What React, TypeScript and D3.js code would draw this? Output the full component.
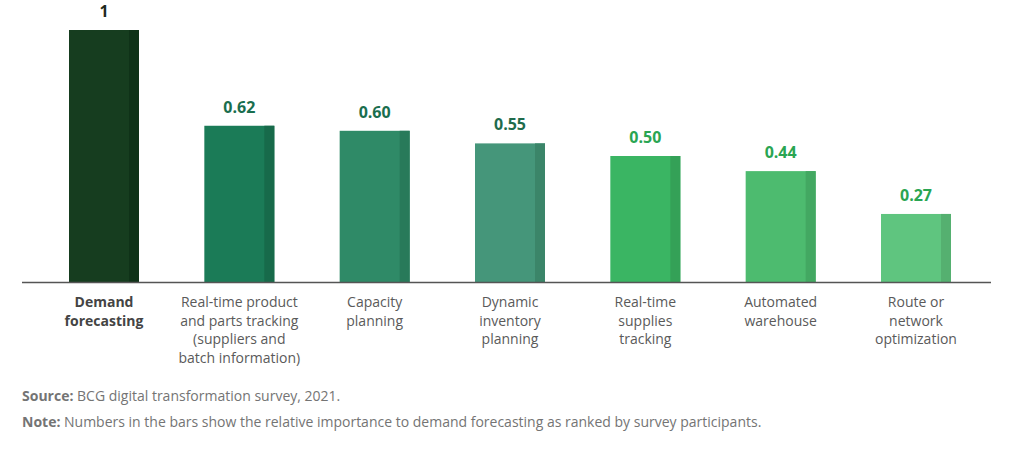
import React from "react";
import * as d3 from "d3";

const categories = [
  ["Demand", "forecasting"],
  ["Real-time product", "and parts tracking", "(suppliers and", "batch information)"],
  ["Capacity", "planning"],
  ["Dynamic", "inventory", "planning"],
  ["Real-time", "supplies", "tracking"],
  ["Automated", "warehouse"],
  ["Route or", "network", "optimization"],
];
const values = [1, 0.62, 0.6, 0.55, 0.5, 0.44, 0.27];
const valueLabels = ["1", "0.62", "0.60", "0.55", "0.50", "0.44", "0.27"];
const barColors = ["#163d1f", "#1b7b57", "#2f8a67", "#45967a", "#3ab563", "#4dbb6f", "#5fc57f"];
const stripColors = ["#0f3218", "#176a4a", "#287a5a", "#3b8569", "#34a157", "#43a862", "#55b070"];
const labelColors = ["#1e2a1e", "#1a6e4e", "#1a6e4e", "#1f6b4c", "#2aa552", "#2aa552", "#2aa552"];

export default function App() {
  const W = 1024, H = 449;
  const baseY = 282;
  const barW = 70;
  const idx = categories.map((_, i) => String(i));
  const x = d3.scalePoint<string>().domain(idx).range([104, 916]);
  const y = d3.scaleLinear().domain([0, 1]).range([baseY, 30]);
  const font = "'Open Sans', 'Noto Sans', sans-serif";
  return (
    <svg width={W} height={H} style={{ position: "absolute", left: 0, top: 0, background: "#fff" }} fontFamily={font}>
      {values.map((v, i) => {
        const cx = x(String(i))!;
        const top = y(v);
        return (
          <g key={i}>
            <rect x={cx - barW / 2} y={top} width={barW} height={baseY - top} fill={barColors[i]} />
            <rect x={cx + barW / 2 - 10} y={top} width={10} height={baseY - top} fill={stripColors[i]} />
            <text x={cx} y={top - 13} textAnchor="middle" fontSize={16} fontWeight={700} fill={labelColors[i]}>
              {valueLabels[i]}
            </text>
            {categories[i].map((line, j) => (
              <text key={j} x={cx} y={307 + j * 18.5} textAnchor="middle" fontSize={14}
                fill={i === 0 ? "#444" : "#5a5a5a"} fontWeight={i === 0 ? 700 : 400}>
                {line}
              </text>
            ))}
          </g>
        );
      })}
      <line x1={22} x2={991} y1={baseY + 0.5} y2={baseY + 0.5} stroke="#555" strokeWidth={1.5} />
      <text x={22} y={401} fontSize={14} fill="#747474">
        <tspan fontWeight={700}>Source:</tspan> BCG digital transformation survey, 2021.
      </text>
      <text x={22} y={427} fontSize={14} fill="#747474">
        <tspan fontWeight={700}>Note:</tspan> Numbers in the bars show the relative importance to demand forecasting as ranked by survey participants.
      </text>
    </svg>
  );
}
